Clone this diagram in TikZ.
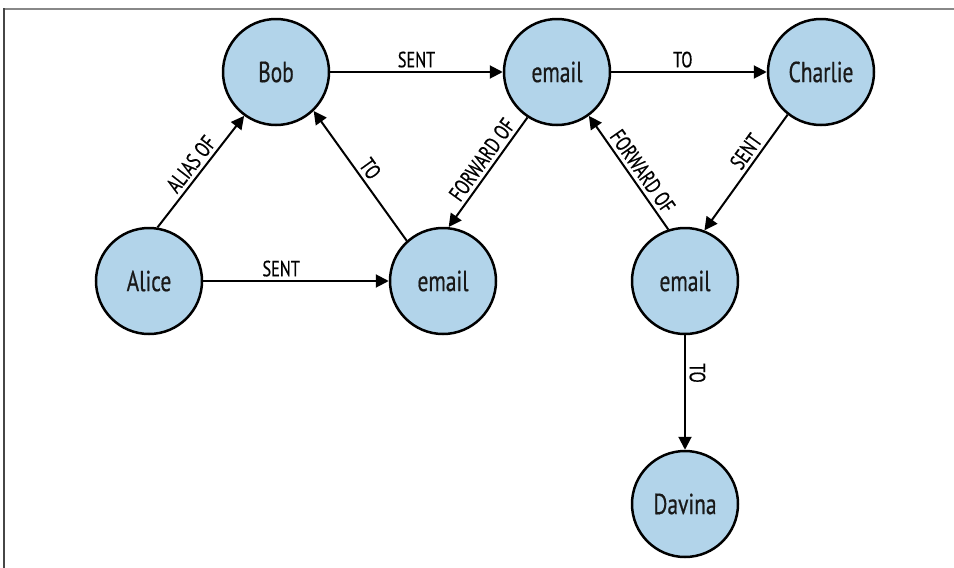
\documentclass[tikz,border=0pt]{standalone}
\usepackage{fontspec}
\setmainfont[FakeStretch=0.74,FakeBold=0.5]{PT Sans}
\usetikzlibrary{arrows.meta}
\definecolor{nodeblue}{RGB}{178,212,234}
\definecolor{framegray}{RGB}{136,136,136}
\definecolor{framedark}{RGB}{70,70,70}
\begin{document}
\begin{tikzpicture}[x=1pt,y=-1pt,
  person/.style={circle, draw=black, line width=2.5pt, fill=nodeblue,
    minimum size=106pt, inner sep=0pt, font=\fontsize{29}{32}\selectfont, text=black!90},
  rel/.style={line width=2pt, -{Triangle[length=13pt,width=13pt]}},
  lbl/.style={font=\fontsize{22}{24}\selectfont, inner sep=3.5pt, sloped, above}]
\useasboundingbox (0,0) rectangle (954,568);
% frame
\draw[framegray, line width=2pt] (4,8.5) -- (954,8.5);
\draw[framedark, line width=1.5pt] (4,8) -- (4,568);
% nodes
\node[person] (bob) at (276,72) {Bob};
\node[person] (ea) at (557,72) {email};
\node[person] (charlie) at (821,72) {Charlie};
\node[person] (alice) at (149,281) {Alice};
\node[person] (eb) at (443,281) {email};
\node[person] (ec) at (685,281) {email};
\node[person] (davina) at (685,504) {Davina};
% edges
\draw[rel] (alice.81) -- node[lbl]{ALIAS OF} (bob.234);
\draw[rel] (alice) -- node[lbl,pos=0.42]{SENT} (eb);
\draw[rel] (eb.132) -- node[lbl]{TO} (bob.314);
\draw[rel] (bob) -- node[lbl]{SENT} (ea);
\draw[rel] (ea.237) -- node[lbl,pos=0.45]{FORWARD OF} (eb.84);
\draw[rel] (ec.108) -- node[lbl,pos=0.45]{FORWARD OF} (ea.306);
\draw[rel] (ea) -- node[lbl,pos=0.46]{TO} (charlie);
\draw[rel] (charlie.232) -- node[lbl,pos=0.38]{SENT} (ec.69);
\draw[rel] (ec) -- node[lbl,pos=0.33]{TO} (davina);
\end{tikzpicture}
\end{document}
